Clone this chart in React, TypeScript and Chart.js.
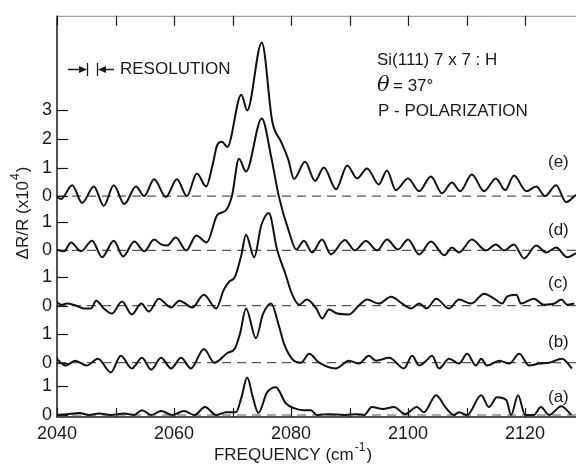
import React, { useEffect, useRef } from "react";
import { Chart, registerables } from "chart.js";
Chart.register(...registerables);

// ---------- axis ----------
const X_MIN = 2040;
const X_MAX = 2128.7;
const X_TICKS = [2040, 2050, 2060, 2070, 2080, 2090, 2100, 2110, 2120];
const X_LABELED = [2040, 2060, 2080, 2100, 2120];
const Y_MIN = -0.07;
const Y_MAX = 13.97;

// ---------- traces (a)..(e), values in units of 1e-4, stacked by offset ----------
const TRACE_NAMES = ["(a)", "(b)", "(c)", "(d)", "(e)"];
const OFFSETS = [0, 1.83, 3.83, 5.76, 7.66];
const TICK_UNITS = [[0, 1], [0, 1], [0, 1], [0, 1], [0, 1, 2, 3]];

const FREQ_A = [2039.8, 2041.7, 2043.8, 2045.5, 2047.2, 2049.2, 2051.5, 2053.2, 2054.5, 2056.1, 2057.8, 2059.7, 2061.7, 2063.5, 2065.3, 2067.2, 2068.9, 2070.6, 2071.5, 2072.5, 2073.5, 2074.4, 2075.9, 2077.4, 2079.1, 2080.5, 2082.1, 2083.4, 2084.4, 2086.5, 2089.1, 2091.3, 2092.5, 2093.8, 2095.7, 2097.6, 2099.5, 2101.5, 2102.7, 2104.8, 2106.5, 2107.9, 2108.7, 2110.1, 2112.5, 2113.8, 2115.2, 2116.8, 2117.6, 2118.8, 2120.0, 2121.5, 2122.7, 2124.1, 2126.2, 2127.9];
const VAL_A = [0, 0.03, 0.07, 0, 0.05, 0, 0.05, 0, 0.17, 0, 0.14, 0, 0.14, 0, 0.28, 0, 0.1, 0.1, 0.6, 1.31, 0.6, 0.07, 0.79, 0.97, 0.41, 0.24, 0.17, 0.17, 0, 0.03, 0, 0.03, 0, 0.28, 0.21, 0.28, 0.03, 0.28, 0.1, 0.69, 0.24, 0, 0.1, 0, 0.69, 0.28, 0.62, 0.52, 0, 0.69, 0, 0, 0.28, 0, 0.31, 0];

const FREQ_B = [2039.5, 2041.5, 2043.1, 2045.1, 2047.0, 2049.2, 2050.9, 2052.8, 2054.5, 2056.1, 2057.8, 2059.5, 2061.2, 2062.9, 2065.1, 2066.9, 2069.1, 2070.4, 2071.3, 2072.3, 2074.0, 2075.2, 2076.6, 2077.9, 2078.8, 2080.5, 2081.7, 2083.1, 2084.8, 2087.7, 2089.9, 2091.6, 2093.3, 2094.5, 2096.8, 2099.3, 2100.7, 2101.9, 2103.1, 2104.1, 2105.3, 2107.0, 2108.7, 2110.1, 2111.6, 2112.5, 2113.5, 2115.6, 2117.3, 2119.0, 2120.7, 2122.4, 2124.1, 2126.3, 2128.0];
const VAL_B = [0.24, -0.1, 0.07, -0.1, 0.14, -0.34, 0.24, -0.2, 0.17, -0.24, 0.17, -0.2, 0.17, -0.2, 0.48, 0.0, 0.34, 0.5, 1.03, 1.9, 0.86, 1.7, 2.07, 1.31, 0.66, 0.07, 0.0, 0.31, 0.0, -0.2, 0.07, -0.03, 0.24, 0.07, 0.17, -0.2, 0.24, -0.1, 0.07, 0.24, -0.2, 0.14, -0.03, 0.31, -0.1, 0.14, -0.1, 0.07, -0.03, 0.31, -0.1, -0.03, 0.0, 0.14, -0.2];

const FREQ_C = [2039.5, 2040.7, 2041.7, 2043.2, 2044.6, 2045.8, 2046.7, 2048.0, 2049.4, 2051.1, 2052.8, 2054.4, 2055.7, 2057.4, 2059.5, 2060.9, 2061.7, 2063.1, 2065.1, 2067.2, 2068.5, 2069.4, 2070.4, 2071.5, 2072.3, 2073.7, 2074.9, 2076.2, 2077.6, 2079.1, 2080.2, 2081.4, 2082.7, 2084.3, 2085.3, 2086.5, 2087.9, 2089.9, 2091.6, 2093.0, 2095.0, 2097.1, 2099.0, 2100.5, 2101.9, 2103.2, 2104.8, 2107.0, 2108.7, 2110.8, 2113.0, 2114.7, 2116.1, 2116.9, 2118.5, 2119.3, 2121.5, 2123.2, 2125.0, 2126.2, 2127.2, 2128.4];
const VAL_C = [0.21, 0.03, 0.07, 0.0, -0.1, -0.1, 0.17, -0.1, -0.28, 0.14, -0.31, 0.07, -0.21, 0.24, -0.07, 0.17, 0.1, -0.07, 0.38, -0.1, 0.55, 0.83, 1.0, 1.76, 2.48, 1.69, 2.8, 3.24, 1.97, 1.07, 0.38, 0.03, 0.21, -0.1, -0.45, -0.14, -0.28, -0.31, 0.0, 0.21, 0.07, 0.31, 0.07, -0.1, 0.07, -0.1, 0.24, -0.1, 0.21, 0.07, 0.41, 0.24, 0.07, 0.31, 0.38, 0.07, 0.24, 0.03, 0.07, 0.21, 0.03, 0.07];

const FREQ_D = [2039.8, 2041.2, 2042.4, 2044.1, 2046.0, 2047.7, 2049.7, 2051.3, 2053.2, 2054.9, 2056.6, 2057.8, 2058.8, 2060.3, 2062.1, 2063.8, 2065.6, 2067.4, 2068.9, 2069.9, 2071.1, 2072.3, 2075.0, 2076.6, 2077.9, 2079.7, 2080.9, 2082.2, 2083.6, 2085.3, 2086.8, 2089.2, 2090.9, 2092.8, 2094.7, 2096.4, 2098.3, 2100.0, 2101.9, 2103.9, 2106.2, 2107.5, 2108.7, 2110.9, 2113.3, 2115.0, 2116.4, 2118.1, 2119.8, 2121.9, 2123.6, 2125.3, 2127.2, 2128.7];
const VAL_D = [0.03, -0.03, 0.28, -0.03, 0.34, -0.24, 0.34, -0.21, 0.31, -0.03, 0.38, 0.21, 0.17, 0.45, 0.0, 0.52, 0.28, 1.24, 1.41, 1.9, 3.21, 2.76, 4.62, 3.28, 1.9, 0.62, 0.03, 0.34, -0.07, 0.38, -0.14, 0.36, 0.0, 0.33, 0.0, 0.38, 0.03, 0.38, -0.14, 0.31, -0.17, 0.1, -0.07, 0.38, 0.0, 0.21, 0.0, 0.21, -0.28, 0.17, -0.07, 0.1, -0.24, -0.1];

const FREQ_E = [2039.8, 2040.7, 2042.6, 2044.3, 2046.3, 2048.0, 2049.7, 2051.5, 2053.5, 2054.9, 2056.6, 2058.6, 2060.5, 2062.2, 2063.9, 2065.5, 2066.6, 2067.4, 2068.2, 2069.1, 2071.5, 2072.5, 2075.0, 2076.8, 2078.3, 2079.5, 2080.5, 2082.4, 2084.1, 2085.6, 2087.7, 2089.6, 2091.3, 2093.0, 2095.0, 2096.4, 2097.9, 2100.0, 2101.9, 2103.9, 2105.8, 2107.5, 2108.9, 2110.9, 2113.0, 2115.0, 2116.6, 2118.1, 2120.2, 2121.9, 2123.4, 2125.3, 2127.0, 2128.7];
const VAL_E = [0, -0.1, 0.38, -0.24, 0.34, -0.34, 0.38, -0.28, 0.34, 0.0, 0.59, -0.03, 0.59, 0.0, 0.79, 0.34, 1.1, 1.8, 1.9, 1.72, 3.55, 3.0, 5.38, 2.6, 1.9, 1.3, 0.6, 1.2, 0.53, 1.0, 0.24, 1.07, 0.62, 0.97, 0.41, 0.9, 0.21, 0.62, 0.17, 0.69, 0.1, 0.48, 0.17, 0.76, 0.17, 0.62, 0.21, 0.72, 0.17, 0.34, 0.0, 0.38, -0.21, 0.05];

const FREQS = [FREQ_A, FREQ_B, FREQ_C, FREQ_D, FREQ_E];
const VALS = [VAL_A, VAL_B, VAL_C, VAL_D, VAL_E];

const Y_TICK_VALUES = OFFSETS.flatMap((o, i) => TICK_UNITS[i].map((u) => o + u));
const Y_TICK_LABELS = TICK_UNITS.flatMap((units) => units.map((u) => String(u)));

const FONT = '"Liberation Sans", Arial, sans-serif';
const INK = "#1a1a1a";

function drawArrowHead(ctx: CanvasRenderingContext2D, tipX: number, y: number, dir: number) {
  ctx.beginPath();
  ctx.moveTo(tipX, y);
  ctx.lineTo(tipX - dir * 8, y - 3.5);
  ctx.lineTo(tipX - dir * 8, y + 3.5);
  ctx.closePath();
  ctx.fill();
}

const decor = {
  id: "decor",
  afterDraw(chart: any) {
    const { ctx, chartArea: ca, scales } = chart;
    const x = scales.x;
    const y = scales.y;
    ctx.save();
    // frame
    ctx.strokeStyle = "#888";
    ctx.lineWidth = 1;
    ctx.beginPath();
    ctx.moveTo(ca.left, ca.top + 0.5);
    ctx.lineTo(ca.right, ca.top + 0.5);
    ctx.stroke();
    ctx.strokeStyle = INK;
    ctx.lineWidth = 1.5;
    ctx.beginPath();
    ctx.moveTo(ca.left, ca.top);
    ctx.lineTo(ca.left, ca.bottom);
    ctx.lineTo(ca.right, ca.bottom);
    ctx.stroke();
    // x ticks (inward, top and bottom)
    ctx.lineWidth = 1.2;
    for (const t of X_TICKS) {
      const px = Math.round(x.getPixelForValue(t)) + 0.5;
      ctx.beginPath();
      ctx.moveTo(px, ca.top);
      ctx.lineTo(px, ca.top + 10);
      ctx.moveTo(px, ca.bottom);
      ctx.lineTo(px, ca.bottom - 9);
      ctx.stroke();
    }
    // y ticks (inward)
    for (const v of Y_TICK_VALUES) {
      const py = Math.round(y.getPixelForValue(v)) + 0.5;
      ctx.beginPath();
      ctx.moveTo(ca.left, py);
      ctx.lineTo(ca.left + 11, py);
      ctx.stroke();
    }
    ctx.fillStyle = INK;
    ctx.textBaseline = "middle";
    // trace labels
    const labelY = [397, 342, 283, 230, 162];
    ctx.font = `17px ${FONT}`;
    ctx.textAlign = "left";
    TRACE_NAMES.forEach((n, i) => ctx.fillText(n, 548, labelY[i]));
    // annotation block
    ctx.font = `17px ${FONT}`;
    ctx.fillText("Si(111) 7 x 7 : H", 377, 60);
    ctx.font = `italic 21px "DejaVu Serif", serif`;
    ctx.fillText("θ", 377, 86);
    ctx.font = `17px ${FONT}`;
    ctx.fillText("= 37°", 393, 86);
    ctx.fillText("P - POLARIZATION", 378, 111);
    // resolution marker
    ctx.fillText("RESOLUTION", 120, 69);
    ctx.lineWidth = 1.3;
    ctx.beginPath();
    ctx.moveTo(68, 69.5);
    ctx.lineTo(80, 69.5);
    ctx.moveTo(87.5, 63);
    ctx.lineTo(87.5, 76);
    ctx.moveTo(97.5, 63);
    ctx.lineTo(97.5, 76);
    ctx.moveTo(105, 69.5);
    ctx.lineTo(114, 69.5);
    ctx.stroke();
    drawArrowHead(ctx, 87, 69.5, 1);
    drawArrowHead(ctx, 98, 69.5, -1);
    // x title
    ctx.font = `17px ${FONT}`;
    ctx.textAlign = "left";
    const t1 = "FREQUENCY (cm";
    const w1 = ctx.measureText(t1).width;
    ctx.font = `12px ${FONT}`;
    const ws = ctx.measureText("-1").width;
    ctx.font = `17px ${FONT}`;
    const w3 = ctx.measureText(")").width;
    let sx = 293 - (w1 + ws + w3 + 2) / 2;
    ctx.fillText(t1, sx, 455);
    ctx.font = `12px ${FONT}`;
    ctx.fillText("-1", sx + w1 + 1, 448);
    ctx.font = `17px ${FONT}`;
    ctx.fillText(")", sx + w1 + ws + 2, 455);
    // y title (rotated)
    ctx.save();
    ctx.translate(23, 213);
    ctx.rotate(-Math.PI / 2);
    const a1 = "ΔR/R (x10";
    const aw1 = ctx.measureText(a1).width;
    ctx.font = `12px ${FONT}`;
    const aws = ctx.measureText("4").width;
    ctx.font = `17px ${FONT}`;
    const aw3 = ctx.measureText(")").width;
    const ax = -(aw1 + aws + aw3 + 2) / 2;
    ctx.fillText(a1, ax, 0);
    ctx.font = `12px ${FONT}`;
    ctx.fillText("4", ax + aw1 + 1, -7);
    ctx.font = `17px ${FONT}`;
    ctx.fillText(")", ax + aw1 + aws + 2, 0);
    ctx.restore();
    ctx.restore();
  },
};

export default function App() {
  const ref = useRef<HTMLCanvasElement | null>(null);
  useEffect(() => {
    if (!ref.current) return;
    const datasets: any[] = [];
    OFFSETS.forEach((off, i) => {
      datasets.push({
        label: TRACE_NAMES[i] + " zero",
        data: [
          { x: X_MIN, y: off },
          { x: X_MAX, y: off },
        ],
        borderColor: "#555",
        borderWidth: 1.2,
        borderDash: [9, 6],
        pointRadius: 0,
        order: 2,
      });
    });
    FREQS.forEach((fs, i) => {
      datasets.push({
        label: TRACE_NAMES[i],
        data: fs.map((f, j) => ({ x: f, y: VALS[i][j] + OFFSETS[i] })),
        borderColor: "#111",
        borderWidth: 2,
        pointRadius: 0,
        cubicInterpolationMode: "monotone",
        order: 1,
      });
    });
    const chart = new Chart(ref.current, {
      type: "line",
      data: { datasets },
      options: {
        animation: false,
        responsive: false,
        maintainAspectRatio: false,
        layout: { padding: { top: 10, right: 0, left: 0, bottom: 0 } },
        plugins: { legend: { display: false }, tooltip: { enabled: false } },
        scales: {
          x: {
            type: "linear",
            min: X_MIN,
            max: X_MAX,
            afterBuildTicks: (s: any) => {
              s.ticks = X_TICKS.map((v) => ({ value: v }));
            },
            afterFit: (s: any) => {
              s.height = 48;
            },
            grid: { display: false, drawTicks: false },
            border: { display: false },
            ticks: {
              autoSkip: false,
              maxRotation: 0,
              padding: 6,
              color: INK,
              font: { family: FONT, size: 18 },
              callback: (v: any) => (X_LABELED.includes(Number(v)) ? String(v) : ""),
            },
          },
          y: {
            type: "linear",
            min: Y_MIN,
            max: Y_MAX,
            afterBuildTicks: (s: any) => {
              s.ticks = Y_TICK_VALUES.map((v) => ({ value: v }));
            },
            afterFit: (s: any) => {
              s.width = 57;
            },
            grid: { display: false, drawTicks: false },
            border: { display: false },
            ticks: {
              autoSkip: false,
              padding: 5,
              color: INK,
              font: { family: FONT, size: 18 },
              callback: (_v: any, idx: number) => Y_TICK_LABELS[idx],
            },
          },
        },
      },
      plugins: [decor],
    });
    return () => chart.destroy();
  }, []);
  return (
    <div style={{ position: "fixed", left: 0, top: 0, width: 576, height: 465, background: "#fff" }}>
      <canvas ref={ref} width={576} height={465} style={{ display: "block", width: 576, height: 465 }} />
    </div>
  );
}
